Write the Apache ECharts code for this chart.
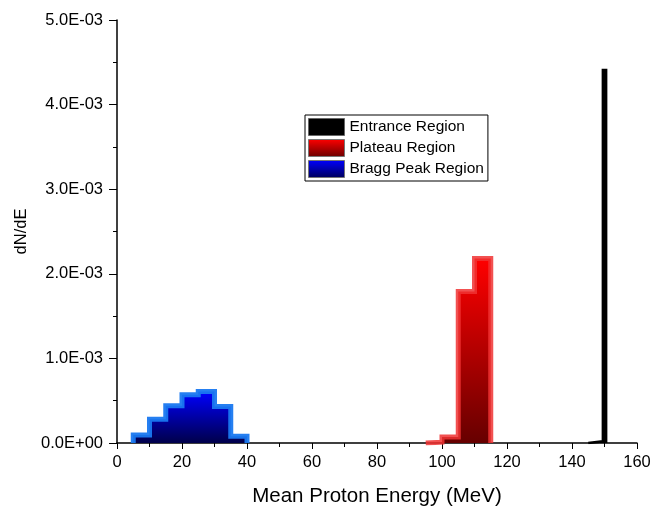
<!DOCTYPE html>
<html><head><meta charset="utf-8">
<script src="https://cdn.jsdelivr.net/npm/echarts@6/dist/echarts.min.js"></script>
<style>html,body{margin:0;padding:0;background:#fff}#c{width:654px;height:509px}</style>
</head><body><div id="c"></div>
<script>
// Bin left edges (MeV) and dN/dE values
const seriesNames = ['Entrance Region', 'Plateau Region', 'Bragg Peak Region'];
const braggE = [5, 5, 10, 15, 20, 25, 30, 35, 40];
const braggV = [0, 0.000095, 0.00028, 0.00044, 0.00057, 0.00061, 0.00043, 0.00008, 0];
const plateauE = [95, 95, 100, 105, 110, 115];
const plateauV = [0, 0.00001, 0.00007, 0.00179, 0.00218, 0];
const entranceE = [145, 145, 149.5, 150.5];
const entranceV = [0, 0.00002, 0.00441, 0];
const yTicks = [0, 0.001, 0.002, 0.003, 0.004, 0.005];
const xTicks = [0, 20, 40, 60, 80, 100, 120, 140, 160];

function zip(a, b) { return a.map((x, i) => [x, b[i]]); }
function fmtE(v) {
  if (v === 0) return '0.0E+00';
  const s = v.toExponential(1).toUpperCase();
  const m = s.match(/^(.*)E([+-])(\d+)$/);
  return m[1] + 'E' + m[2] + (m[3].length < 2 ? '0' + m[3] : m[3]);
}
const G = echarts.graphic.LinearGradient;
const blueFill = new G(0, 0, 0, 1, [{offset: 0, color: '#0000ff'}, {offset: 1, color: '#00004a'}]);
const redFill = new G(0, 0, 0, 1, [{offset: 0, color: '#ff0000'}, {offset: 1, color: '#660000'}]);
const font = 'Liberation Sans, Arial, sans-serif';
const chart = echarts.init(document.getElementById('c'), null, {renderer: 'canvas'});
chart.setOption({
  animation: false,
  backgroundColor: '#fff',
  grid: {left: 117, right: 17, top: 20, bottom: 66, containLabel: false, outerBoundsMode: 'none'},
  legend: {
    left: 305, top: 115, orient: 'vertical', icon: 'rect',
    itemWidth: 36, itemHeight: 17, itemGap: 3,
    borderColor: '#000', borderWidth: 1, padding: [3, 4, 3, 3],
    textStyle: {fontFamily: font, fontSize: 15.5, color: '#000'},
    data: [
      {name: seriesNames[0], itemStyle: {color: '#000', borderColor: '#666', borderWidth: 1}},
      {name: seriesNames[1], itemStyle: {color: new G(0, 0, 0, 1, [{offset: 0, color: '#ff0000'}, {offset: 1, color: '#6a0000'}]), borderColor: '#777', borderWidth: 1}},
      {name: seriesNames[2], itemStyle: {color: new G(0, 0, 0, 1, [{offset: 0, color: '#0000ff'}, {offset: 1, color: '#00005a'}]), borderColor: '#777', borderWidth: 1}}
    ]
  },
  xAxis: {
    type: 'value', min: 0, max: 160, interval: 20,
    name: 'Mean Proton Energy (MeV)', nameLocation: 'middle', nameGap: 43,
    nameTextStyle: {fontFamily: font, fontSize: 20.5, color: '#000'},
    axisLine: {onZero: false, lineStyle: {color: '#000', width: 1.5}},
    axisTick: {show: true, length: 6, lineStyle: {color: '#000'}},
    minorTick: {show: true, splitNumber: 2, length: 4, lineStyle: {color: '#000'}},
    splitLine: {show: false},
    axisLabel: {fontFamily: font, fontSize: 16.5, color: '#000', margin: 11,
      formatter: v => xTicks.includes(v) ? String(v) : ''}
  },
  yAxis: {
    type: 'value', min: 0, max: 0.005, interval: 0.001,
    name: 'dN/dE', nameLocation: 'middle', nameGap: 81,
    nameTextStyle: {fontFamily: font, fontSize: 16.5, color: '#000'},
    axisLine: {show: true, lineStyle: {color: '#000', width: 1.5}},
    axisTick: {show: true, length: 8, lineStyle: {color: '#000'}},
    minorTick: {show: true, splitNumber: 2, length: 4, lineStyle: {color: '#000'}},
    splitLine: {show: false},
    axisLabel: {fontFamily: font, fontSize: 16.5, color: '#000', margin: 14,
      formatter: v => yTicks.some(t => Math.abs(t - v) < 1e-9) ? fmtE(v) : ''}
  },
  series: [
    {name: seriesNames[2], type: 'line', step: 'end', showSymbol: false, symbol: 'none', z: 2,
      data: zip(braggE, braggV),
      lineStyle: {color: 'rgba(25,120,240,0.95)', width: 5, join: 'miter'},
      areaStyle: {color: blueFill, opacity: 1}},
    {name: seriesNames[1], type: 'line', step: 'end', showSymbol: false, symbol: 'none', z: 3,
      data: zip(plateauE, plateauV),
      lineStyle: {color: 'rgba(240,50,50,0.85)', width: 5, join: 'miter'},
      areaStyle: {color: redFill, opacity: 1}},
    {name: seriesNames[0], type: 'line', step: 'end', showSymbol: false, symbol: 'none', z: 4,
      data: zip(entranceE, entranceV),
      lineStyle: {color: '#000', width: 2.5, join: 'miter'},
      areaStyle: {color: '#000', opacity: 1}}
  ]
});
</script></body></html>
